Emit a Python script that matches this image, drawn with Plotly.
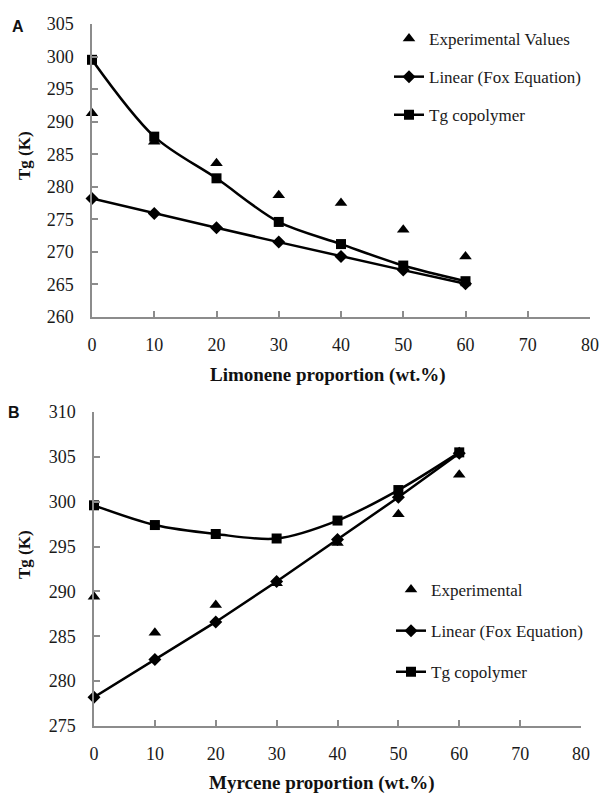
import plotly.graph_objects as go

# ---------------- data ----------------
x_vals = [0, 10, 20, 30, 40, 50, 60]

# Panel A: limonene
lim_exp = [291.3, 286.9, 283.6, 278.7, 277.5, 273.4, 269.3]
lim_fox = [278.2, 275.9, 273.7, 271.5, 269.3, 267.2, 265.1]
lim_tg = [299.5, 287.7, 281.3, 274.6, 271.2, 267.9, 265.5]

# Panel B: myrcene
myr_exp = [289.4, 285.4, 288.5, 290.9, 295.4, 298.6, 303.0]
myr_fox = [278.2, 282.4, 286.6, 291.1, 295.8, 300.5, 305.4]
myr_tg = [299.6, 297.4, 296.4, 295.9, 297.9, 301.3, 305.5]

x_ticks = [0, 10, 20, 30, 40, 50, 60, 70, 80]
names_a = ["Experimental Values", "Linear (Fox Equation)", "Tg copolymer"]
names_b = ["Experimental", "Linear (Fox Equation)", "Tg copolymer"]

# body margin is removed in the page (post_script), so figure fills the window
W, H = 600, 797
SERIF = "Liberation Serif"
BLACK = "#000000"
AXIS = "#8c8c8c"

fig = go.Figure()


def add_panel(xa, ya, exp, fox, tg, names, legend):
    fig.add_trace(go.Scatter(
        x=x_vals, y=exp, mode="markers", name=names[0],
        marker=dict(symbol="triangle-up", size=11, color=BLACK),
        xaxis=xa, yaxis=ya, legend=legend, legendgroup=legend + "e",
        cliponaxis=False))
    fig.add_trace(go.Scatter(
        x=x_vals, y=fox, mode="lines+markers", name=names[1],
        line=dict(color=BLACK, width=2.5),
        marker=dict(symbol="diamond", size=10, color=BLACK),
        xaxis=xa, yaxis=ya, legend=legend, legendgroup=legend + "f",
        cliponaxis=False))
    fig.add_trace(go.Scatter(
        x=x_vals, y=tg, mode="lines+markers", name=names[2],
        line=dict(color=BLACK, width=2.5, shape="spline", smoothing=0.9),
        marker=dict(symbol="square", size=10, color=BLACK),
        xaxis=xa, yaxis=ya, legend=legend, legendgroup=legend + "t",
        cliponaxis=False))


add_panel("x", "y", lim_exp, lim_fox, lim_tg, names_a, "legend")
add_panel("x2", "y2", myr_exp, myr_fox, myr_tg, names_b, "legend2")


def px_x(p):
    return p / W


def px_y(p):
    return 1 - p / H


axis_common = dict(
    showline=True, linecolor=AXIS, linewidth=1.5, showgrid=False,
    zeroline=False, ticks="inside", ticklen=6, tickcolor=AXIS, tickwidth=1.5,
    tickfont=dict(family=SERIF, size=18, color="#1a1a1a"), automargin=False,
    ticklabeloverflow="allow",
)
xaxis_common = dict(ticklabelstandoff=11, **axis_common)
yaxis_common = dict(ticklabelstandoff=13, **axis_common)

fig.update_layout(
    width=W, height=H,
    margin=dict(l=0, r=0, t=0, b=0, autoexpand=False),
    paper_bgcolor="white", plot_bgcolor="white",
    xaxis=dict(domain=[px_x(92), px_x(590)], range=[0, 80], tickvals=x_ticks,
               anchor="y", **xaxis_common),
    yaxis=dict(domain=[px_y(317), px_y(24)], range=[260, 305], dtick=5,
               anchor="x", **yaxis_common),
    xaxis2=dict(domain=[px_x(94), px_x(581)], range=[0, 80], tickvals=x_ticks,
                anchor="y2", **xaxis_common),
    yaxis2=dict(domain=[px_y(726), px_y(412)], range=[275, 310], dtick=5,
                anchor="x2", **yaxis_common),
    legend=dict(x=px_x(389), y=px_y(21), xanchor="left", yanchor="top",
                font=dict(family=SERIF, size=17, color="#1a1a1a"),
                tracegroupgap=13, bgcolor="rgba(0,0,0,0)"),
    legend2=dict(x=px_x(391), y=px_y(572), xanchor="left", yanchor="top",
                 font=dict(family=SERIF, size=17, color="#1a1a1a"),
                 tracegroupgap=16, bgcolor="rgba(0,0,0,0)"),
    showlegend=True,
)

title_font = dict(family=SERIF, size=19, color="#111")
ylab_font = dict(family=SERIF, size=17, color="#111")
annotations = [
    dict(text="<b>Tg (K)</b>", x=px_x(24), y=px_y(156), textangle=-90,
         font=ylab_font),
    dict(text="<b>Tg (K)</b>", x=px_x(24), y=px_y(555), textangle=-90,
         font=ylab_font),
    dict(text="<b>Limonene proportion (wt.%)</b>", x=px_x(328), y=px_y(375),
         font=title_font),
    dict(text="<b>Myrcene proportion (wt.%)</b>", x=px_x(322), y=px_y(783),
         font=title_font),
    dict(text="<b>A</b>", x=px_x(18), y=px_y(27),
         font=dict(family="Liberation Sans", size=16, color="#111")),
    dict(text="<b>B</b>", x=px_x(14), y=px_y(412),
         font=dict(family="Liberation Sans", size=16, color="#111")),
]
for a in annotations:
    a.update(xref="paper", yref="paper", showarrow=False,
             xanchor="center", yanchor="middle")
fig.update_layout(annotations=annotations)

fig.write_html(
    "out.html",
    config={"displayModeBar": False},
    post_script="document.body.style.margin='0';"
                "document.body.style.overflow='hidden';",
)
